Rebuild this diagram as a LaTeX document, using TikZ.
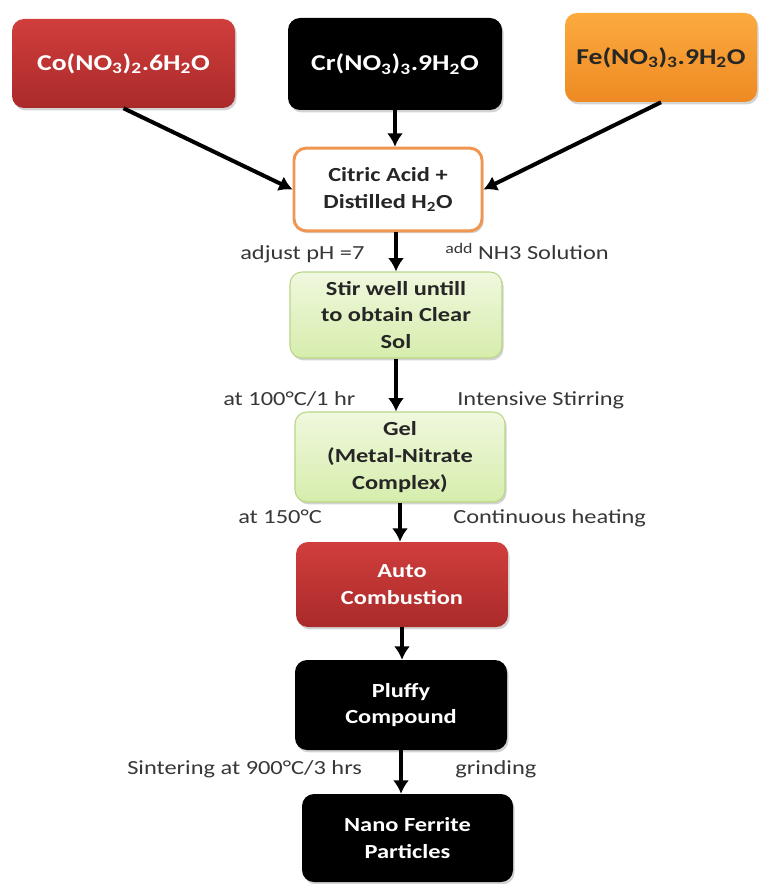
\documentclass[tikz,border=0pt]{standalone}
\usepackage{fontspec}
\setmainfont{Carlito}[FakeStretch=1.22]
\usetikzlibrary{arrows.meta,shadows}
\definecolor{boxred}{RGB}{208,62,60}
\definecolor{boxreddark}{RGB}{170,42,42}
\definecolor{boxorange}{RGB}{251,170,62}
\definecolor{boxorangedark}{RGB}{238,138,35}
\definecolor{boxgreen}{RGB}{240,248,222}
\definecolor{boxgreendark}{RGB}{214,237,172}
\definecolor{greenedge}{RGB}{185,214,135}
\definecolor{citricedge}{RGB}{240,150,80}
\definecolor{lbltext}{RGB}{55,55,55}
\tikzset{
	box/.style={rounded corners=9pt, align=center, inner sep=0pt, font=\bfseries\fontsize{15}{20}\selectfont,
		drop shadow={shadow xshift=1.2pt, shadow yshift=-1.8pt, opacity=0.35}},
	topbox/.style={box, font=\bfseries\fontsize{17}{20}\selectfont},
	redbox/.style={top color=boxred, bottom color=boxreddark, text=white},
	blackbox/.style={fill=black, text=white},
	orangebox/.style={top color=boxorange, bottom color=boxorangedark, text=black!85},
	greenbox/.style={box, top color=boxgreen, bottom color=boxgreendark, draw=greenedge, line width=0.8pt, text=black!85},
	lbl/.style={anchor=base west, inner sep=0pt, text=lbltext, font=\fontsize{15}{18}\selectfont},
	arr/.style={line width=3pt, -{Latex[length=10pt,width=12pt]}}
}
\begin{document}
\begin{tikzpicture}[x=0.75pt,y=-0.75pt]
	\useasboundingbox (0,0) rectangle (759,884);
	\node[topbox, redbox, minimum width=167.25pt, minimum height=66.75pt] (co) at (123.5,63.5) {Co(NO\textsubscript{3})\textsubscript{2}.6H\textsubscript{2}O};
	\node[topbox, blackbox, minimum width=160.5pt, minimum height=69pt] (cr) at (395,64) {Cr(NO\textsubscript{3})\textsubscript{3}.9H\textsubscript{2}O};
	\node[topbox, orangebox, minimum width=144pt, minimum height=66.75pt] (fe) at (661,57.5) {Fe(NO\textsubscript{3})\textsubscript{3}.9H\textsubscript{2}O};
	\node[box, fill=white, draw=citricedge, line width=2.2pt, minimum width=141pt, minimum height=62pt, text=black!85] (citric) at (388,189.5) {Citric Acid +\\Distilled H\textsubscript{2}O};
	\node[greenbox, minimum width=159pt, minimum height=64.5pt] (stir) at (396,315) {Stir well untill\\to obtain Clear\\Sol};
	\node[greenbox, minimum width=157.5pt, minimum height=67.5pt] (gel) at (400,457) {Gel\\(Metal-Nitrate\\Complex)};
	\node[box, redbox, minimum width=159pt, minimum height=63.75pt] (auto) at (402,584.5) {Auto\\Combustion};
	\node[box, blackbox, minimum width=159pt, minimum height=67.5pt] (pluffy) at (401,705) {Pluffy\\Compound};
	\node[box, blackbox, minimum width=158.25pt, minimum height=66pt] (nano) at (407.5,838) {Nano Ferrite\\Particles};
	\draw[arr] (co.south) -- (citric.west);
	\draw[arr] (fe.south) -- (citric.east);
	\draw[arr] (cr.south) -- (cr.south |- citric.north);
	\draw[arr] (citric.south -| stir.north) -- (stir.north);
	\draw[arr] (stir.south) -- (stir.south |- gel.north);
	\draw[arr] (gel.south) -- (gel.south |- auto.north);
	\draw[arr] (auto.south) -- (auto.south |- pluffy.north);
	\draw[arr] (pluffy.south) -- (pluffy.south |- nano.north);
	\node[lbl] (adj) at (240,259) {adjust pH =7};
	\node[lbl] (nh) at (445,259) {\raisebox{4pt}{\fontsize{11}{12}\selectfont add} NH3 Solution};
	\node[lbl] (hundred) at (223,405) {at 100°C/1 hr};
	\node[lbl] (stirring) at (457,405) {Intensive Stirring};
	\node[lbl] (onefifty) at (238,523) {at 150°C};
	\node[lbl] (heating) at (453,523) {Continuous heating};
	\node[lbl] (sinter) at (127,774) {Sintering at 900°C/3 hrs};
	\node[lbl] (grind) at (455,774) {grinding};
\end{tikzpicture}
\end{document}
